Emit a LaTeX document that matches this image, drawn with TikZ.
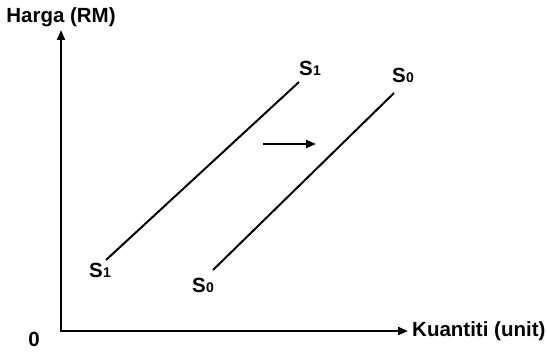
\documentclass[tikz,border=0pt]{standalone}
\usepackage{fontspec}
\setmainfont{Liberation Sans}
\usetikzlibrary{arrows.meta}
\newcommand{\Slab}[1]{S\kern0.5pt{\fontsize{14}{14}\selectfont #1}}
\begin{document}
\begin{tikzpicture}[x=1pt,y=-1pt,
  lbl/.style={font=\fontsize{20.5}{22}\selectfont\bfseries, inner sep=0pt},
  axis/.style={line width=2pt,-{Triangle[length=10pt,width=8pt]}},
  curve/.style={line width=2pt},
  shiftarrow/.style={line width=2pt,-{Triangle[length=10pt,width=8pt]}}]
\useasboundingbox (0,0) rectangle (547,353);
\coordinate (O) at (61,331);
\coordinate (ytop) at (61,30);
\coordinate (xend) at (408,331);
\draw[axis] (61,332) -- (ytop);
\draw[axis] (60,331) -- (xend);
\node[lbl] (ylab) at (61,17) {Harga (RM)};
\node[lbl, anchor=west] (xlab) at (412,331) {Kuantiti (unit)};
\node[lbl] (zero) at (34,339) {0};
\coordinate (s1a) at (106,260);
\coordinate (s1b) at (299,82);
\coordinate (s0a) at (213,270);
\coordinate (s0b) at (394,93);
\draw[curve] (s1a) -- (s1b);
\draw[curve] (s0a) -- (s0b);
\node[lbl] (s1top) at (310,68) {\Slab{1}};
\node[lbl] (s1bot) at (100,270) {\Slab{1}};
\node[lbl] (s0top) at (403,75) {\Slab{0}};
\node[lbl] (s0bot) at (203,285) {\Slab{0}};
\coordinate (ar1) at (263,144);
\coordinate (ar2) at (316,144);
\draw[shiftarrow] (ar1) -- (ar2);
\end{tikzpicture}
\end{document}
